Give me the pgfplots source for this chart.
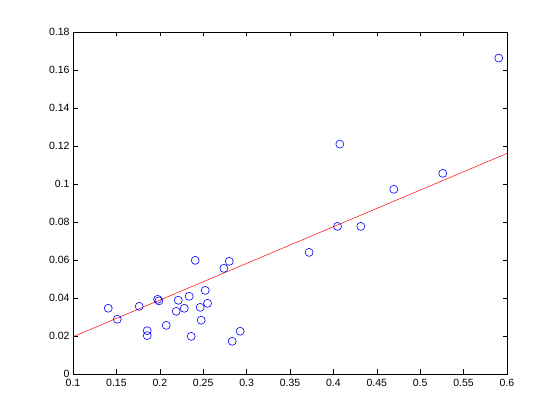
\documentclass[border=0pt]{standalone}
\usepackage{fontspec}
\setmainfont{Liberation Sans}
\usepackage{pgfplots}
\pgfplotsset{compat=1.18}
\begin{document}
\begin{tikzpicture}[x=1pt,y=1pt]
\useasboundingbox[fill=white] (0,0) rectangle (560,420);
\begin{axis}[
  at={(73pt,46pt)}, anchor=south west,
  scale only axis, width=434pt, height=342pt,
  xmin=0.1, xmax=0.6, ymin=0, ymax=0.18,
  xtick={0.1,0.15,...,0.6}, ytick={0,0.02,...,0.18},
  tick align=inside, major tick length=4.5pt,
  xtick pos=both, ytick pos=both,
  every tick/.style={black, line width=0.6pt},
  axis line style={line width=0.6pt},
  /pgf/number format/assume math mode=true,
  /pgf/number format/fixed, /pgf/number format/precision=2,
  scaled ticks=false,
  tick label style={font=\fontsize{10.5}{12}\selectfont},
  xticklabel style={yshift=-2pt},
  clip=false,
]
\addplot[red, line width=0.5pt] coordinates {(0.1,0.0196) (0.6,0.1161)};
\addplot[only marks, mark=o, blue, mark size=4pt, line width=0.6pt] coordinates {
(0.1406,0.0346) (0.151,0.0288) (0.1763,0.0356) (0.1855,0.0228) (0.1855,0.0202)
(0.1975,0.0393) (0.199,0.0385) (0.2074,0.0256) (0.2189,0.0330) (0.2213,0.0388)
(0.2282,0.0346) (0.2339,0.0409) (0.2362,0.0198) (0.2408,0.0598) (0.2466,0.0351)
(0.2477,0.0283) (0.2523,0.0440) (0.2550,0.0372) (0.2738,0.0556) (0.2800,0.0593)
(0.2834,0.0172) (0.2926,0.0225) (0.3720,0.0640) (0.4047,0.0777) (0.4074,0.1210)
(0.4316,0.0777) (0.4696,0.0972) (0.5260,0.1056) (0.5905,0.1663)
};
\end{axis}
\end{tikzpicture}
\end{document}
